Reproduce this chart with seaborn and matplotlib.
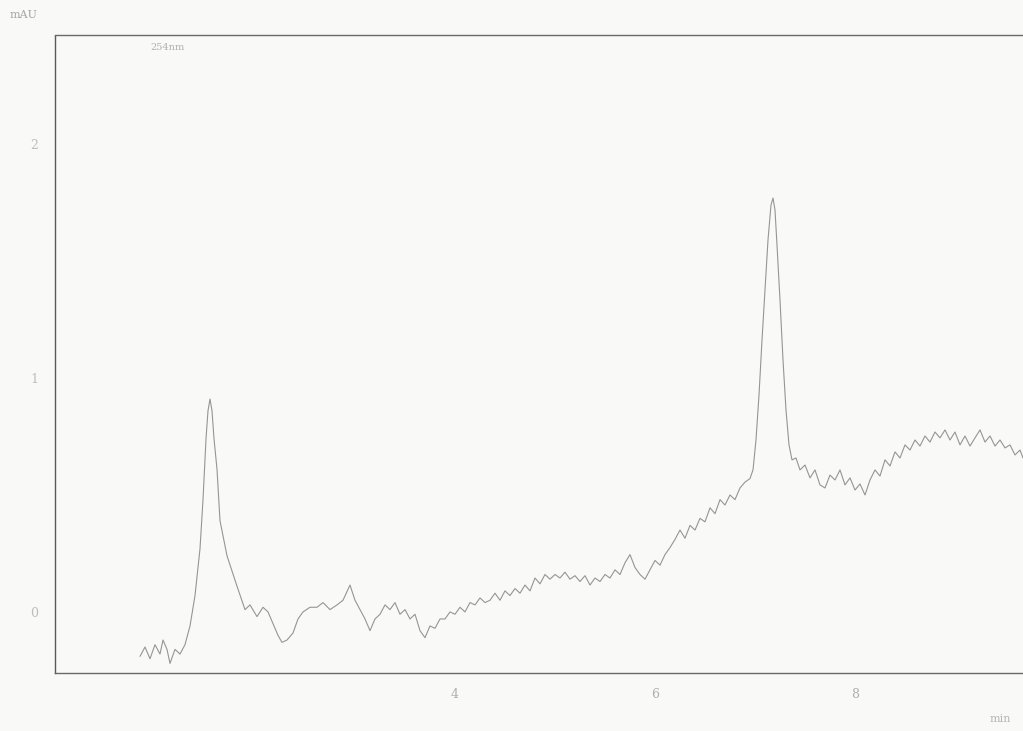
import matplotlib
matplotlib.use("Agg")
import matplotlib.pyplot as plt
import seaborn as sns
import pandas as pd

# Retention time (min) and detector response (mAU) of the chromatogram trace
times = [0.85, 0.90, 0.95, 1.00, 1.05, 1.08, 1.12, 1.15, 1.20, 1.25,
         1.30, 1.35, 1.40, 1.45, 1.48, 1.51, 1.53, 1.55, 1.57, 1.59,
         1.62, 1.65, 1.72, 1.82, 1.90, 1.95, 2.02, 2.08, 2.13, 2.18,
         2.23, 2.27, 2.32, 2.38, 2.43, 2.48, 2.55, 2.62, 2.68, 2.75,
         2.82, 2.88, 2.95, 3.00, 3.05, 3.10, 3.15, 3.20, 3.25, 3.30,
         3.35, 3.40, 3.45, 3.50, 3.55, 3.60, 3.65, 3.70, 3.75, 3.80,
         3.85, 3.90, 3.95, 4.00, 4.05, 4.10, 4.15, 4.20, 4.25, 4.30,
         4.35, 4.40, 4.45, 4.50, 4.55, 4.60, 4.65, 4.70, 4.75, 4.80,
         4.85, 4.90, 4.95, 5.00, 5.05, 5.10, 5.15, 5.20, 5.25, 5.30,
         5.35, 5.40, 5.45, 5.50, 5.55, 5.60, 5.65, 5.70, 5.75, 5.80,
         5.85, 5.90, 5.95, 6.00, 6.05, 6.10, 6.15, 6.20, 6.25, 6.30,
         6.35, 6.40, 6.45, 6.50, 6.55, 6.60, 6.65, 6.70, 6.75, 6.80,
         6.85, 6.90, 6.95, 6.98, 7.01, 7.04, 7.07, 7.10, 7.13, 7.16,
         7.18, 7.20, 7.22, 7.25, 7.28, 7.31, 7.34, 7.37, 7.41, 7.45,
         7.50, 7.55, 7.60, 7.65, 7.70, 7.75, 7.80, 7.85, 7.90, 7.95,
         8.00, 8.05, 8.10, 8.15, 8.20, 8.25, 8.30, 8.35, 8.40, 8.45,
         8.50, 8.55, 8.60, 8.65, 8.70, 8.75, 8.80, 8.85, 8.90, 8.95,
         9.00, 9.05, 9.10, 9.15, 9.20, 9.25, 9.30, 9.35, 9.40, 9.45,
         9.50, 9.55, 9.60, 9.65, 9.68]

absorbance = [-0.19, -0.15, -0.20, -0.14, -0.18, -0.12, -0.16, -0.22, -0.16, -0.18,
              -0.14, -0.06, 0.07, 0.27, 0.48, 0.74, 0.86, 0.91, 0.86, 0.74,
              0.61, 0.39, 0.24, 0.11, 0.01, 0.03, -0.02, 0.02, 0.00, -0.05,
              -0.10, -0.13, -0.12, -0.09, -0.03, 0.00, 0.02, 0.02, 0.04, 0.01,
              0.03, 0.05, 0.115, 0.05, 0.01, -0.03, -0.08, -0.03, -0.01, 0.03,
              0.01, 0.04, -0.01, 0.01, -0.03, -0.01, -0.08, -0.11, -0.06, -0.07,
              -0.03, -0.03, 0.00, -0.01, 0.02, 0.00, 0.04, 0.03, 0.06, 0.04,
              0.05, 0.08, 0.05, 0.09, 0.07, 0.10, 0.08, 0.115, 0.09, 0.145,
              0.12, 0.16, 0.14, 0.16, 0.145, 0.17, 0.14, 0.155, 0.13, 0.155,
              0.115, 0.145, 0.13, 0.16, 0.145, 0.18, 0.16, 0.21, 0.245, 0.19,
              0.16, 0.14, 0.18, 0.22, 0.20, 0.245, 0.275, 0.31, 0.35, 0.315,
              0.37, 0.35, 0.40, 0.385, 0.445, 0.42, 0.48, 0.457, 0.50, 0.48,
              0.53, 0.555, 0.57, 0.607, 0.735, 0.927, 1.162, 1.376, 1.59, 1.739,
              1.769, 1.718, 1.568, 1.333, 1.077, 0.863, 0.714, 0.65, 0.658, 0.607,
              0.628, 0.573, 0.607, 0.543, 0.53, 0.585, 0.564, 0.607, 0.543, 0.573,
              0.521, 0.547, 0.50, 0.564, 0.607, 0.581, 0.65, 0.624, 0.684, 0.658,
              0.714, 0.692, 0.735, 0.709, 0.752, 0.726, 0.769, 0.744, 0.778, 0.735,
              0.769, 0.714, 0.752, 0.709, 0.744, 0.778, 0.726, 0.752, 0.709, 0.735,
              0.701, 0.714, 0.671, 0.692, 0.658]

x_ticks = [4, 6, 8]
y_ticks = [0, 1, 2]
y_unit = "mAU"
x_unit = "min"
signal_label = "254nm"

df = pd.DataFrame({"time": times, "mAU": absorbance})

sns.set_theme(style="white")
plt.rcParams["font.family"] = ["DejaVu Serif", "DejaVu Sans"]

paper = "#f9f9f7"
fig = plt.figure(figsize=(10.23, 7.31), dpi=100, facecolor=paper)
ax = fig.add_axes([55 / 1023, 1 - 673 / 731, 985 / 1023, 638 / 731])
ax.set_facecolor(paper)

sns.lineplot(data=df, x="time", y="mAU", ax=ax, color="#959595",
             linewidth=0.8, estimator=None, sort=False)

ax.set_xlim(0, 9.85)
ax.set_ylim(-0.261, 2.466)
ax.set_xticks(x_ticks)
ax.set_xticklabels([str(t) for t in x_ticks])
ax.set_yticks(y_ticks)
ax.set_yticklabels([str(t) for t in y_ticks])
ax.set_xlabel("")
ax.set_ylabel("")

ax.tick_params(axis="x", direction="out", length=5, width=0.8,
               color="#9a9a9a", labelcolor="#b0b0b0", labelsize=9, pad=6)
ax.tick_params(axis="y", direction="out", length=0,
               labelcolor="#bdbdbd", labelsize=9, pad=12)

for side, col in [("left", "#5a5a5a"), ("bottom", "#6a6a6a"), ("top", "#6a6a6a")]:
    ax.spines[side].set_visible(True)
    ax.spines[side].set_color(col)
    ax.spines[side].set_linewidth(1.0)
    ax.spines[side].set_linestyle((0, (3, 1)))
ax.spines["right"].set_visible(False)

fig.text(10 / 1023, 1 - 18 / 731, y_unit, fontsize=8, color="#a5a5a5")
fig.text(990 / 1023, 1 - 722 / 731, x_unit, fontsize=8, color="#b5b5b5")
ax.text(0.95, 2.40, signal_label, fontsize=7, color="#b0b0b0")

fig.savefig("out.png", dpi=100, facecolor=paper)
